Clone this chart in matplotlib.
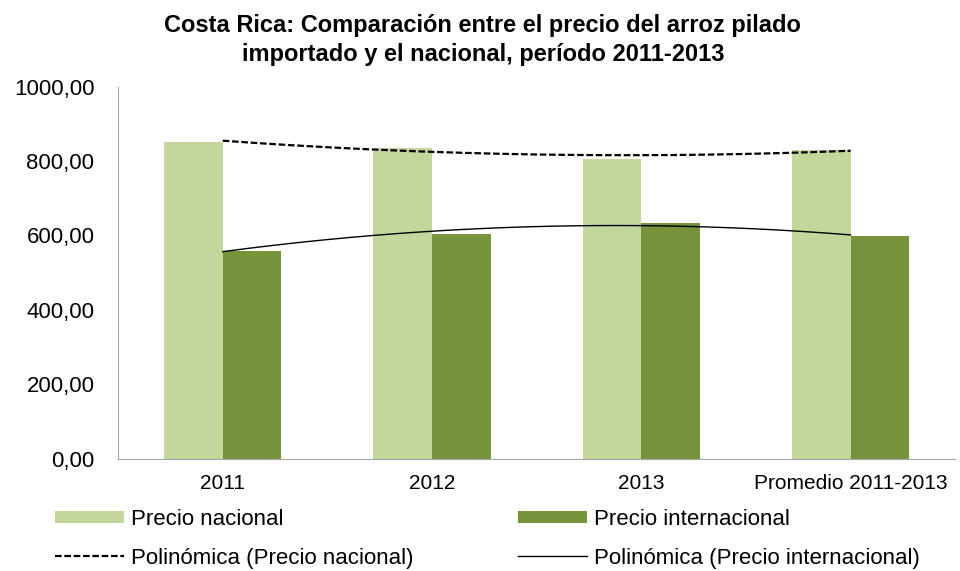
import matplotlib.pyplot as plt
import numpy as np

plt.rcParams['font.family'] = ['Liberation Sans', 'DejaVu Sans']

categories = ['2011', '2012', '2013', 'Promedio 2011-2013']
precio_nacional = [852, 834, 807, 831]
precio_internacional = [559, 604, 634, 599]
yticks = [0, 200, 400, 600, 800, 1000]

c_nac = '#c3d69b'
c_int = '#77933c'

fig = plt.figure(figsize=(9.6, 5.71), dpi=100)
ax = fig.add_axes([0.123, 0.197, 0.872, 0.651])

x = np.arange(len(categories))
w = 0.28
b_nac = ax.bar(x - w / 2, precio_nacional, w, color=c_nac)
b_int = ax.bar(x + w / 2, precio_internacional, w, color=c_int)

# polynomial (order 2) trendlines, like Excel
xs = np.linspace(0, len(categories) - 1, 200)
p_nac = np.polyfit(x, precio_nacional, 2)
p_int = np.polyfit(x, precio_internacional, 2)
l_nac, = ax.plot(xs, np.polyval(p_nac, xs), color='black', linestyle=(0, (3, 1.2)), linewidth=1.6)
l_int, = ax.plot(xs, np.polyval(p_int, xs), color='black', linewidth=1.0)

ax.set_xlim(-0.5, len(categories) - 0.5)
ax.set_ylim(0, 1000)
ax.set_yticks(yticks)
ax.set_yticklabels([f'{v:.2f}'.replace('.', ',') for v in yticks], fontsize=16)
ax.set_xticks(x)
ax.set_xticklabels(categories, fontsize=15)
ax.tick_params(length=0)
ax.tick_params(axis='x', pad=11)
ax.tick_params(axis='y', pad=17)

for s in ['top', 'right']:
    ax.spines[s].set_visible(False)
for s in ['left', 'bottom']:
    ax.spines[s].set_color('#a6a6a6')

fig.suptitle('Costa Rica: Comparación entre el precio del arroz pilado\nimportado y el nacional, período 2011-2013',
             fontsize=17, fontweight='bold', y=0.975, x=0.503, linespacing=1.3)

leg_kw = dict(loc='upper left', frameon=False, fontsize=16, borderpad=0, borderaxespad=0,
              handlelength=3.1, handleheight=0.5, handletextpad=0.32, labelspacing=0.8)
leg1 = fig.legend([b_nac, l_nac], ['Precio nacional', 'Polinómica (Precio nacional)'],
                  bbox_to_anchor=(0.057, 0.109), **leg_kw)
leg2 = fig.legend([b_int, l_int], ['Precio internacional', 'Polinómica (Precio internacional)'],
                  bbox_to_anchor=(0.54, 0.109), **leg_kw)

fig.savefig('out.png', dpi=100, facecolor='white')
